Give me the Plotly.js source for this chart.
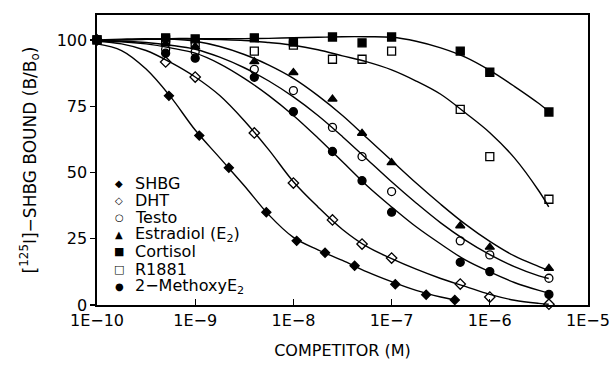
<!DOCTYPE html>
<html>
<head>
<meta charset="utf-8">
<script src="https://cdn.plot.ly/plotly-3.0.1.min.js"></script>
<style>html,body{margin:0;padding:0;background:#fff;}#chart{width:615px;height:366px;}</style>
</head>
<body>
<div id="chart"></div>
<script>
// ---- data ----
const seriesNames = ['SHBG', 'DHT', 'Testo', 'Estradiol (E<sub>2</sub>)', 'Cortisol', 'R1881', '2\u2212MethoxyE<sub>2</sub>'];

// competitor concentrations (M)
const conc = [1e-10, 5e-10, 1e-9, 4e-9, 1e-8, 2.5e-8, 5e-8, 1e-7, 5e-7, 1e-6, 4e-6];
const shbgConc = [1e-10, 5.4e-10, 1.1e-9, 2.2e-9, 5.3e-9, 1.08e-8, 2.1e-8, 4.2e-8, 1.09e-7, 2.25e-7, 4.4e-7];

// bound (% of B/Bo)
const shbgVals      = [100, 78.9, 63.9, 51.8, 35.0, 24.2, 19.7, 14.8, 7.8, 3.9, 1.9];
const dhtVals       = [100, 91.7, 86.0, 64.9, 46.0, 32.1, 23.0, 17.7, 7.9, 3.0, 0.3];
const testoVals     = [100, 96.5, 95.5, 88.9, 80.9, 67.0, 56.0, 42.8, 24.2, 18.9, 10.1];
const estradiolVals = [100, 98.5, 97.5, 91.8, 87.7, 77.7, 64.8, 53.7, 29.9, 21.8, 13.8];
const cortisolVals  = [100, 100.8, 100.4, 100.8, 99.2, 101.1, 98.9, 101.1, 95.8, 87.8, 72.8];
const r1881Vals     = [100, 100.0, 99.0, 95.8, 98.0, 92.7, 92.7, 95.8, 73.8, 56.0, 39.9];
const methoxyVals   = [100, 95.0, 93.1, 85.9, 72.9, 57.9, 46.9, 35.0, 16.1, 12.6, 4.0];

// fitted curves (log10 of concentration -> bound)
const fitExp     = [-10, -9.75, -9.5, -9.25, -9, -8.75, -8.5, -8.25, -8, -7.75, -7.5, -7.25, -7, -6.75, -6.5, -6.25, -6, -5.75, -5.5, -5.4];
const shbgFitExp = [-10, -9.75, -9.5, -9.25, -9, -8.75, -8.5, -8.25, -8, -7.75, -7.5, -7.25, -7, -6.75, -6.5, -6.36];
const shbgFit      = [98.5, 96, 89, 78.5, 66, 55.5, 45, 34, 25.5, 20.8, 16.8, 12.5, 8.8, 5.5, 3, 1.9];
const dhtFit       = [99.5, 98.5, 96, 91.5, 86, 79, 69.5, 58.5, 46.5, 37, 28.5, 22, 17.5, 13.5, 10, 7, 4, 1.8, 0.6, 0.3];
const testoFit     = [99.5, 99.5, 99, 98, 96.5, 93.5, 89.5, 84.5, 78.5, 71.5, 63.5, 55, 46.5, 38.5, 31, 24.5, 19, 14.5, 11, 10];
const estradiolFit = [100, 100.3, 100.5, 100.3, 99.5, 97.5, 94.5, 90.5, 85.5, 79, 71.5, 63, 54.5, 46, 38, 30.5, 24, 18.5, 14.5, 13];
const cortisolFit  = [99.5, 100, 100.3, 100.5, 100.5, 100.5, 100.5, 100.6, 100.8, 101, 101.2, 101.2, 101, 99.5, 97, 93.5, 88.5, 82.5, 76, 73];
const r1881Fit     = [99.5, 100, 100.2, 100.3, 100.3, 100.1, 99.8, 99, 98, 96.3, 94, 91.7, 88.7, 84.5, 79.5, 72.5, 65, 55.5, 43, 37];
const methoxyFit   = [99.5, 99.3, 98.5, 97, 95, 91, 85.5, 79, 71.5, 63, 54, 45, 37, 29.5, 23, 17, 12.5, 8.5, 5.5, 4.5];

const xTickVals = [1e-10, 1e-9, 1e-8, 1e-7, 1e-6, 1e-5];
const xTickText = ['1E\u221210', '1E\u22129', '1E\u22128', '1E\u22127', '1E\u22126', '1E\u22125'];
const yTickVals = [0, 25, 50, 75, 100];

// ---- styling ----
const FONT = 'DejaVu Sans';
const series = [
  {name: seriesNames[0], x: shbgConc, y: shbgVals, fx: shbgFitExp, fy: shbgFit, sym: 'diamond', size: 7, glyph: '\u25C6', gs: 10},
  {name: seriesNames[1], x: conc, y: dhtVals, fx: fitExp, fy: dhtFit, sym: 'diamond-open', size: 8, glyph: '\u25C7', gs: 10},
  {name: seriesNames[2], x: conc, y: testoVals, fx: fitExp, fy: testoFit, sym: 'circle-open', size: 8, glyph: '\u25CB', gs: 10},
  {name: seriesNames[3], x: conc, y: estradiolVals, fx: fitExp, fy: estradiolFit, sym: 'triangle-up', size: 8, glyph: '\u25B2', gs: 10},
  {name: seriesNames[4], x: conc, y: cortisolVals, fx: fitExp, fy: cortisolFit, sym: 'square', size: 8, glyph: '\u25A0', gs: 11},
  {name: seriesNames[5], x: conc, y: r1881Vals, fx: fitExp, fy: r1881Fit, sym: 'square-open', size: 8, glyph: '\u25A1', gs: 11},
  {name: seriesNames[6], x: conc, y: methoxyVals, fx: fitExp, fy: methoxyFit, sym: 'circle', size: 8, glyph: '\u25CF', gs: 10}
];

const traces = [];
series.forEach(s => {
  traces.push({
    x: s.fx.map(e => Math.pow(10, e)), y: s.fy, mode: 'lines', type: 'scatter',
    line: {color: '#000', width: 1.4, shape: 'spline', smoothing: 1},
    hoverinfo: 'skip', showlegend: false, cliponaxis: false
  });
});
series.forEach(s => {
  traces.push({
    x: s.x, y: s.y, mode: 'markers', type: 'scatter', name: s.name,
    marker: {symbol: s.sym, size: s.size, color: '#000', line: {color: '#000', width: 1.3}},
    showlegend: false, cliponaxis: false
  });
});

// legend drawn as annotations (positions in pixels of the 615x366 canvas)
const L = 97, R = 588, T = 15, B = 305;
const px2x = p => (p - L) / (R - L);
const px2y = p => (B - p) / (B - T);
const annotations = [];
series.forEach((s, i) => {
  const yc = 183 + i * 17.2;
  annotations.push({xref: 'paper', yref: 'paper', x: px2x(119), y: px2y(yc), text: s.glyph,
    showarrow: false, xanchor: 'center', yanchor: 'middle', font: {family: FONT, size: s.gs, color: '#000'}});
  annotations.push({xref: 'paper', yref: 'paper', x: px2x(133), y: px2y(yc), text: s.name,
    showarrow: false, xanchor: 'left', yanchor: 'middle', font: {family: FONT, size: 16, color: '#000'}});
});

const layout = {
  width: 615, height: 366,
  margin: {l: L, r: 615 - R, t: T, b: 366 - B, pad: 0},
  paper_bgcolor: '#fff', plot_bgcolor: '#fff',
  font: {family: FONT, size: 16, color: '#000'},
  showlegend: false,
  xaxis: {
    type: 'log', range: [-10, -5], tickvals: xTickVals, ticktext: xTickText,
    ticks: 'inside', ticklen: 6, tickwidth: 1.3, tickcolor: '#000',
    showline: true, linecolor: '#000', linewidth: 1.6, mirror: true,
    showgrid: false, zeroline: false,
    tickfont: {family: FONT, size: 16, color: '#000'},
    title: {text: 'COMPETITOR (M)', font: {family: FONT, size: 16, color: '#000'}, standoff: 16}
  },
  yaxis: {
    range: [0, 109.4], tickvals: yTickVals,
    ticks: 'outside', ticklen: 5, tickwidth: 1.3, tickcolor: '#000',
    showline: true, linecolor: '#000', linewidth: 1.6, mirror: true,
    showgrid: false, zeroline: false,
    tickfont: {family: FONT, size: 16, color: '#000'},
    title: {text: '[<sup>125</sup>I]\u2212SHBG BOUND (B/B<sub>o</sub>)', font: {family: FONT, size: 17, color: '#000'}, standoff: 16}
  },
  yaxis2: {
    overlaying: 'y', side: 'left', anchor: 'x', range: [0, 109.4], tickvals: yTickVals,
    ticks: 'inside', ticklen: 4, tickwidth: 1.3, tickcolor: '#000',
    showticklabels: false, showline: false, showgrid: false, zeroline: false
  },
  annotations: annotations
};

Plotly.newPlot('chart', traces, layout, {displayModeBar: false, staticPlot: true});
</script>
</body>
</html>
